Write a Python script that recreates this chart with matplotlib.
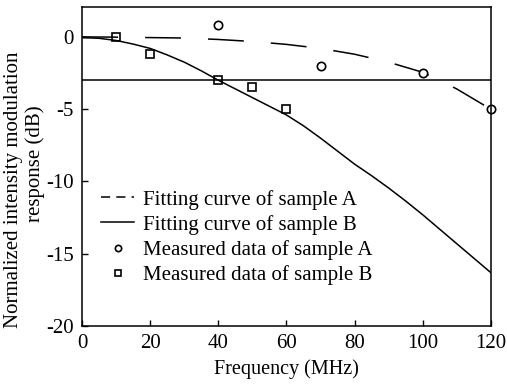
import numpy as np
import matplotlib.pyplot as plt
from matplotlib.lines import Line2D

# ---- data -------------------------------------------------------------------
fit_a_f = [0, 10, 20, 30, 40, 50, 60, 70, 80, 90, 100, 110, 120]
fit_a = [0, -0.02, -0.05, -0.08, -0.18, -0.32, -0.52, -0.8, -1.2, -1.75, -2.45, -3.6, -5.0]

fit_b_f = [0, 5, 10, 15, 20, 25, 30, 35, 40, 45, 50, 55, 60, 65, 70, 75, 80,
           85, 90, 95, 100, 105, 110, 115, 120]
fit_b = [-0.05, -0.1, -0.25, -0.5, -0.8, -1.25, -1.75, -2.35, -3.0, -3.6, -4.2,
         -4.8, -5.4, -6.15, -7.0, -7.9, -8.8, -9.6, -10.45, -11.35, -12.3, -13.3,
         -14.3, -15.3, -16.3]

meas_a_f = [40, 70, 100, 120]
meas_a = [0.8, -2.0, -2.5, -5.0]
meas_b_f = [10, 20, 40, 50, 60]
meas_b = [0.0, -1.2, -3.0, -3.5, -5.0]

cutoff = -3.0
xticks = [0, 20, 40, 60, 80, 100, 120]
yticks = [0, -5, -10, -15, -20]

labels = ['Fitting curve of sample A', 'Fitting curve of sample B',
          'Measured data of sample A', 'Measured data of sample B']

plt.rcParams['font.family'] = ['Liberation Serif', 'DejaVu Serif']
plt.rcParams['font.size'] = 15
plt.rcParams['axes.unicode_minus'] = False

fig = plt.figure(figsize=(5.07, 3.85), dpi=100)
ax = fig.add_axes([0.162, 0.153, 0.806, 0.829])

lw = 1.1
ax.plot(fit_a_f, fit_a, color='black', lw=lw, dashes=(23.5, 17.7))
ax.plot(fit_b_f, fit_b, color='black', lw=lw)
ax.axhline(cutoff, color='black', lw=lw)
ax.plot(meas_a_f, meas_a, 'o', ms=6, mfc='white', mec='black', mew=1.2,
        linestyle='none', clip_on=False)
ax.plot(meas_b_f, meas_b, 's', ms=6, mfc='none', mec='black', mew=1.2,
        linestyle='none')

ax.set_xlim(0, 120)
ax.set_ylim(-20, 2.07)
ax.set_xticks(xticks)
ax.set_yticks(yticks)
ax.tick_params(direction='in', length=4.5, width=1.0, pad=6)
for s in ax.spines.values():
    s.set_linewidth(1.1)

ax.set_xlabel('Frequency (MHz)', fontsize=14.5, labelpad=4)
# two-line y label, each line placed where it sits in the reference
fig.text(14 / 507, 1 - 190 / 385, 'Normalized intensity modulation', rotation=90,
         ha='center', va='center', fontsize=15)
fig.text(35 / 507, 1 - 164 / 385, 'response (dB)', rotation=90,
         ha='center', va='center', fontsize=15)

handles = [
    Line2D([], [], color='black', lw=lw, dashes=(6, 4)),
    Line2D([], [], color='black', lw=lw),
    Line2D([], [], marker='o', ms=4.5, mfc='none', mec='black', mew=1.2, linestyle='none'),
    Line2D([], [], marker='s', ms=4.5, mfc='none', mec='black', mew=1.2, linestyle='none'),
]
ax.legend(handles, labels, loc='lower left', bbox_to_anchor=(0.0, 0.07),
          frameon=False, fontsize=15, handlelength=1.6, handletextpad=0.4,
          labelspacing=0.25, borderaxespad=0.5)

fig.savefig('out.png', dpi=100)
